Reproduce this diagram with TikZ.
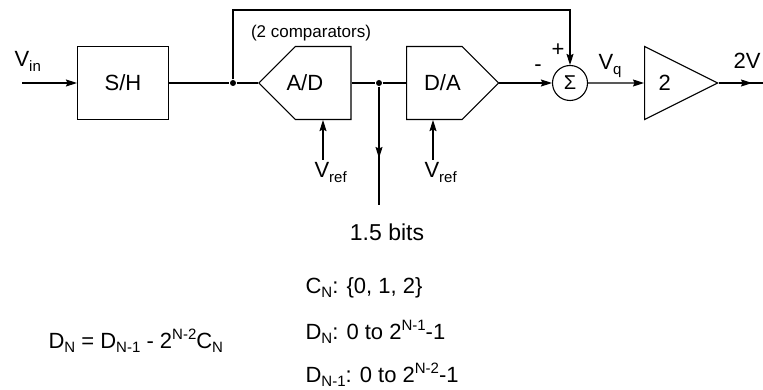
\documentclass[tikz,border=0pt]{standalone}
\usepackage{fontspec}
\setmainfont{Liberation Sans}
\usetikzlibrary{arrows.meta, shapes.symbols, shapes.geometric}
\newcommand{\subt}[1]{\raisebox{-4.5pt}{\fontsize{15}{15}\selectfont #1}}
\newcommand{\supt}[1]{\raisebox{8.5pt}{\fontsize{15}{15}\selectfont #1}}

\begin{document}
\begin{tikzpicture}[
    x=1pt, y=-1pt,
    >={Stealth[length=11pt, width=7pt, inset=1.5pt]},
    line width=1.1pt,
    T/.style={font=\fontsize{22}{26}\selectfont, inner sep=0pt},
    Blk/.style={rectangle, draw, minimum width=91pt, minimum height=73pt, inner sep=0pt, T},
    Conv/.style={signal, draw, signal to=#1, signal from=nowhere, minimum width=92pt,
                 minimum height=73pt, inner sep=0pt},
    Amp/.style={isosceles triangle, isosceles triangle stretches, draw, minimum width=73pt,
                minimum height=73pt, inner sep=0pt, T},
    Sum/.style={circle, draw, minimum size=35pt, inner sep=0pt, font=\fontsize{20}{24}\selectfont},
    Dot/.style={circle, fill, inner sep=0pt, minimum size=6pt}
]
\useasboundingbox (0,0) rectangle (763,390);

% === SIGNAL PATH ===
\coordinate (vin) at (22,83);
\node[T, anchor=base west] (vinl) at (14,67) {V\subt{in}};
\node[Blk] (sh) at (123,83) {S/H};
\node[Dot] (j1) at (233,83) {};
\node[Conv=west, anchor=east] (ad) at (351.5,83) {};
\path (ad.west) -- (ad.east) node[T, midway] (adl) {A/D};
\node[font=\fontsize{17}{20}\selectfont, inner sep=0pt] (cmp) at (311,33) {(2 comparators)};
\node[Dot] (j2) at (379,83) {};
\node[Conv=east, anchor=west] (da) at (406,83) {};
\path (da.west) -- (da.east) node[T, pos=0.39] (dal) {D/A};
\node[Sum] (sum) at (570,83) {Σ};
\node[T] (minus) at (538,68) {-};
\node[T] (plus) at (558,50) {+};
\node[T, anchor=base west] (vq) at (598,70) {V\subt{q}};
\node[Amp, anchor=lower side] (amp) at (644,83) {2};
\coordinate (out) at (763,83);
\coordinate (outm) at (752,83);
\node[T, anchor=base west] (vout) at (733,69) {2V};

\draw[->] (vin) -- (sh);
\draw (sh) -- (j1);
\draw (j1) -- (ad);
\draw (ad) -- (j2);
\draw (j2) -- (da);
\draw[->] (da) -- (sum);
\draw[->] (sum) -- (amp);
\draw (amp.apex) -- (out);
\draw[->] (amp.apex) -- (outm);

% feedback to the summer
\coordinate (fb) at (233,10);
\draw[->] (j1) -- (fb) -| (sum.north);

% === REFERENCES ===
\coordinate (r1) at (323,160);
\coordinate (r2) at (433,160);
\node[T, anchor=base west] (vr1) at (314,178) {V\subt{ref}};
\node[T, anchor=base west] (vr2) at (424,178) {V\subt{ref}};
\draw[->] (r1) -- (r1 |- ad.south);
\draw[->] (r2) -- (r2 |- da.south);

% === DIGITAL OUTPUT ===
\coordinate (bo) at (379,205);
\coordinate (bm) at (379,158);
\node[T, font=\fontsize{23}{26}\selectfont] (bits) at (387,232) {1.5 bits};
\draw (j2) -- (bo);
\draw[->] (j2) -- (bm);

% === RELATIONS ===
\node[T, anchor=base west] (eq) at (48,348) {D\subt{N} = D\subt{N-1} - 2\supt{N-2}C\subt{N}};
\node[T, anchor=base west] (cn) at (305,293) {C\subt{N}: \{0, 1, 2\}};
\node[T, anchor=base west] (dn) at (305,339) {D\subt{N}: 0 to 2\supt{N-1}-1};
\node[T, anchor=base west] (dn1) at (305,382) {D\subt{N-1}: 0 to 2\supt{N-2}-1};

\end{tikzpicture}
\end{document}
